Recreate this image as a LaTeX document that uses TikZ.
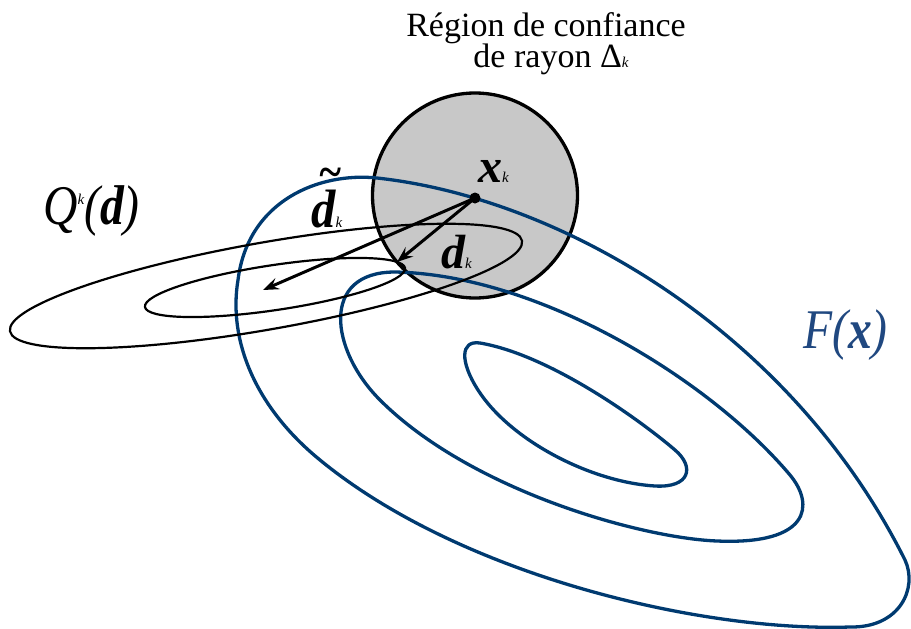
\documentclass[tikz,border=0pt]{standalone}
\usepackage{fontspec}
\setmainfont{Liberation Serif}
\usetikzlibrary{arrows.meta}
\definecolor{fblue}{RGB}{0,58,112}
\definecolor{ftext}{RGB}{32,72,128}
\definecolor{regfill}{RGB}{200,200,200}
\newcommand\subk{{\fontsize{15}{15}\selectfont\itshape\mdseries k}}
\newcommand\bigsym[1]{{\fontsize{48}{48}\selectfont #1}}
\newcommand\hugesym[1]{\scalebox{0.85}[1]{\fontsize{56}{56}\selectfont #1}}
\begin{document}
\begin{tikzpicture}[x=1pt,y=-1pt,
  fcont/.style={draw=fblue, line width=3.3pt},
  qcont/.style={draw=black, line width=2.2pt},
  arr/.style={line width=3pt, -{Stealth[length=16pt,width=12pt,inset=6pt]}},
  lbl/.style={inner sep=0pt, anchor=base west},
  ttl/.style={inner sep=0pt, anchor=base, font=\fontsize{34}{34}\selectfont},
]
\useasboundingbox (0,0) rectangle (911,629);
% trust region
\node[circle, draw=black, fill=regfill, line width=3.3pt, minimum size=205pt, inner sep=0pt] (region) at (475,195.5) {};
% contours of F
\draw[fcont] (377,178) .. controls (560,198) and (790,330) .. (905,560)
  .. controls (918,588) and (900,628) .. (850,627)
  .. controls (700,632) and (460,575) .. (320,460)
  .. controls (255,407) and (228,340) .. (238,280)
  .. controls (248,200) and (320,172) .. cycle;
\draw[fcont] (395,272) .. controls (540,275) and (710,380) .. (790,475)
  .. controls (815,505) and (810,545) .. (717,541)
  .. controls (640,538) and (470,490) .. (380,400)
  .. controls (330,350) and (320,272) .. cycle;
\draw[fcont] (480,343) .. controls (550,355) and (640,420) .. (675,450)
  .. controls (695,467) and (690,488) .. (655,486)
  .. controls (590,482) and (510,440) .. (478,390)
  .. controls (460,362) and (460,340) .. cycle;
% contours of Q
\draw[qcont, rotate around={10:(266,286)}] (266,286) ellipse [x radius=260pt, y radius=43.5pt];
\draw[qcont, rotate around={8.5:(275,287.5)}] (275,287.5) ellipse [x radius=131.5pt, y radius=22.5pt];
% steps
\coordinate (xk) at (475,198);
\coordinate (dtip) at (263,290);
\coordinate (dktip) at (397,262);
\draw[arr] (xk) -- (dtip);
\draw[arr] (xk) -- (dktip);
\fill (xk) circle[radius=5.5pt];
% labels
\node[ttl] (title1) at (546,36) {Région de confiance};
\node[ttl] (title2) at (551,67) {de rayon Δ\subk};
\node[lbl] (xlab) at (478,182) {\bigsym{\bfseries\itshape x}\subk};
\node[lbl] (dtlab) at (311,227) {\scalebox{0.9}[1]{\fontsize{54}{54}\selectfont\bfseries\itshape\makebox[0pt][l]{\hspace{8pt}\raisebox{40pt}{\fontsize{46}{46}\selectfont\textasciitilde}}d}\subk};
\node[lbl] (dlab) at (441,268) {\bigsym{\bfseries\itshape d}\subk};
\node[lbl] (qlab) at (43,224) {\hugesym{\itshape Q}\raisebox{20pt}{\subk}\hugesym{\itshape (\textbf{d})}};
\node[lbl, text=ftext] (flab) at (803,348) {\hugesym{\itshape F(\textbf{x})}};
\end{tikzpicture}
\end{document}
